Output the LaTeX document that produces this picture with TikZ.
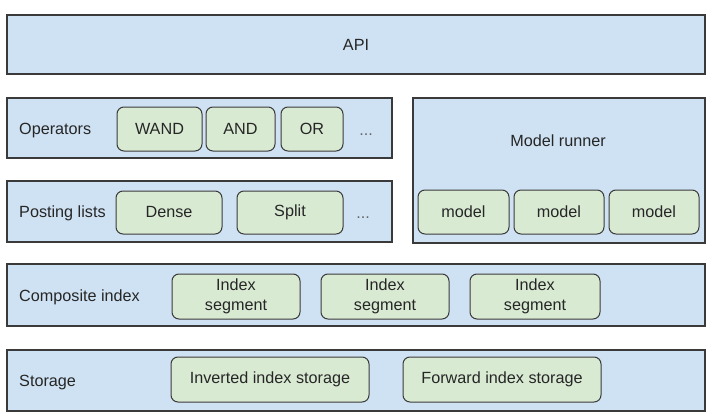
\documentclass[tikz,border=0pt]{standalone}
\usepackage{fontspec}
\setmainfont{Liberation Sans}
\usetikzlibrary{positioning}

\definecolor{layerblue}{HTML}{CFE2F3}
\definecolor{partgreen}{HTML}{D9EAD3}
\definecolor{edgegray}{HTML}{3A3A3A}

\tikzset{
  layer/.style={rectangle, draw=edgegray, fill=layerblue, line width=1.1pt, inner sep=0pt},
  part/.style={rectangle, rounded corners=7pt, draw=edgegray, fill=partgreen, line width=1pt,
               inner sep=0pt, align=center, minimum height=44pt},
  caption/.style={anchor=base west, inner sep=0pt},
  more/.style={text=gray!80!black, inner sep=0pt, anchor=base}
}

\begin{document}
\begin{tikzpicture}[x=1pt, y=-1pt, font=\fontsize{16.2}{19.5}\selectfont, text=black!85]
            \useasboundingbox (0,0) rectangle (712,420);
            % layers
            \node (api) [layer, minimum width=698pt, minimum height=59pt] at (356,44.5) {API};
            \node (ops) [layer, minimum width=385pt, minimum height=60pt] at (199.5,128) {};
            \node (post) [layer, minimum width=385pt, minimum height=61pt] at (199.5,211.5) {};
            \node (runner) [layer, minimum width=292pt, minimum height=145pt] at (559,170.5) {};
            \node (comp) [layer, minimum width=698pt, minimum height=62pt] at (356,295) {};
            \node (stor) [layer, minimum width=698pt, minimum height=61pt] at (356,380.5) {};
            % layer captions (placed on their baselines)
            \node (opslabel) [caption] at (19,134) {Operators};
            \node (postlabel) [caption] at (19,217.5) {Posting lists};
            \node (runnerlabel) [inner sep=0pt, anchor=base] at (558,146) {Model runner};
            \node (complabel) [caption] at (19,301) {Composite index};
            \node (storlabel) [caption] at (19,386.5) {Storage};
            % operators
            \node (wand) [part, minimum width=85pt] at (159.5,129) {WAND};
            \node (and) [part, minimum width=69pt] at (240.5,129) {AND};
            \node (or) [part, minimum width=62pt] at (312,129) {OR};
            \node (opsmore) [more] at (366,135) {...};
            % posting lists
            \node (dense) [part, minimum width=106pt, minimum height=43pt] at (169,212.5) {Dense};
            \node (split) [part, minimum width=106pt, minimum height=43pt] at (290,212.5) {Split};
            \node (postmore) [more] at (363,218) {...};
            % models
            \node (modela) [part, minimum width=91pt] at (463.5,212) {model};
            \node (modelb) [part, minimum width=90pt] at (559,212) {model};
            \node (modelc) [part, minimum width=90pt] at (654,212) {model};
            % index segments
            \node (sega) [part, minimum width=128pt, minimum height=45pt] at (236,296.5) {Index\\segment};
            \node (segb) [part, minimum width=128pt, minimum height=45pt] at (385,296.5) {Index\\segment};
            \node (segc) [part, minimum width=130pt, minimum height=45pt] at (535,296.5) {Index\\segment};
            % storage
            \node (inverted) [part, minimum width=198pt, minimum height=45pt] at (270,379.5) {Inverted index storage};
            \node (forward) [part, minimum width=198pt, minimum height=45pt] at (502,379.5) {Forward index storage};
        \end{tikzpicture}
\end{document}
